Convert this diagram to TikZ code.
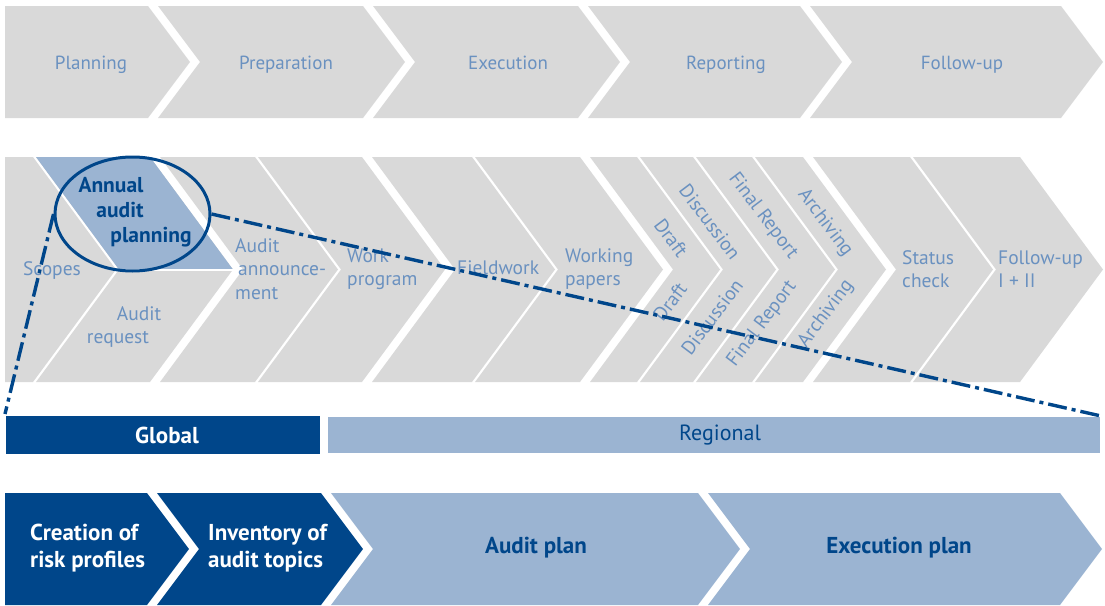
\documentclass[tikz,border=0pt]{standalone}
\usepackage{fontspec}
\setmainfont{PT Sans}
\usetikzlibrary{shapes.geometric}
\definecolor{grayc}{RGB}{217,217,217}
\definecolor{txtc}{RGB}{106,145,192}
\definecolor{darkb}{RGB}{0,70,138}
\definecolor{lightb}{RGB}{155,180,210}
% L, R, ytop, ybot, dleft, dright, style
\newcommand\mychev[7]{\fill[#7] (#1,#3) -- (#2,#3) -- ({#2+#6},{(#3+#4)/2}) -- (#2,#4) -- (#1,#4) -- ({#1+#5},{(#3+#4)/2}) -- cycle;}
\begin{document}
\begin{tikzpicture}[x=1pt,y=-1pt,
  ttext/.style={text=txtc,font=\fontsize{19}{24}\selectfont,inner sep=0pt,anchor=base},
  mtext/.style={text=txtc,font=\fontsize{19.5}{23.5}\selectfont,inner sep=0pt,align=left,anchor=west},
  rtext/.style={text=txtc,font=\fontsize{19.5}{23.5}\selectfont,inner sep=0pt},
  aap/.style={text=darkb,font=\bfseries\fontsize{21.5}{25}\selectfont,inner sep=0pt,anchor=base},
  wtext/.style={text=white,font=\bfseries\fontsize{23}{27}\selectfont,inner sep=0pt,align=left,anchor=west},
  btext/.style={text=darkb,font=\bfseries\fontsize{23}{27}\selectfont,inner sep=0pt},
  dd/.style={draw=darkb,line width=3.4pt,dash pattern=on 19pt off 5pt on 4pt off 5pt}]
\useasboundingbox (0,0) rectangle (1105,605);
% top row
\mychev{5}{148}{6}{118}{0}{42}{grayc}
\mychev{158}{363}{6}{118}{42}{42}{grayc}
\mychev{373}{578}{6}{118}{42}{42}{grayc}
\mychev{588}{800}{6}{118}{42}{42}{grayc}
\mychev{810}{1061}{6}{118}{42}{42}{grayc}
\node[ttext] (planning) at (91,69) {Planning};
\node[ttext] (preparation) at (286,69) {Preparation};
\node[ttext] (execution) at (508,69) {Execution};
\node[ttext] (reporting) at (726,69) {Reporting};
\node[ttext] (followup) at (962,69) {Follow-up};
% middle row
\mychev{5}{33}{157}{382}{0}{83}{grayc}
\mychev{36}{150}{157}{382}{83}{83}{grayc}
\mychev{160}{255}{157}{382}{83}{83}{grayc}
\mychev{258}{362}{157}{382}{83}{83}{grayc}
\mychev{372}{472}{157}{382}{83}{83}{grayc}
\mychev{475}{580}{157}{382}{83}{83}{grayc}
\mychev{590}{637}{157}{382}{83}{83}{grayc}
\mychev{640}{693}{157}{382}{83}{83}{grayc}
\mychev{696}{752}{157}{382}{83}{83}{grayc}
\mychev{755}{803}{157}{382}{83}{83}{grayc}
\mychev{813}{910}{157}{382}{83}{83}{grayc}
\mychev{913}{1020}{157}{382}{83}{83}{grayc}
\fill[lightb] (36,157) -- (150,157) -- (233,269.5) -- (119,269.5) -- cycle;
\draw[white,line width=2pt] (118,270) -- (234,270);
\node[rtext,anchor=base] (scopes) at (52,275) {Scopes};
\node[aap] (aap1) at (111,192) {Annual};
\node[aap] (aap2) at (120,217) {audit};
\node[aap] (aap3) at (151,242) {planning};
\node[rtext,anchor=base] (req1) at (139,320) {Audit};
\node[rtext,anchor=base] (req2) at (118,343) {request};
\node[mtext] (announce) at (235,269) {Audit\\\hspace*{3pt}announce-\\ment};
\node[mtext] (work) at (347,269) {Work\\program};
\node[mtext] (fieldwork) at (457,268) {Fieldwork};
\node[mtext] (papers) at (565,269) {Working\\papers};
\node[rtext,rotate=-53] (draftu) at (671,238) {Draft};
\node[rtext,rotate=53] (draftl) at (670,302) {Draft};
\node[rtext,rotate=-53] (discu) at (710,222) {Discussion};
\node[rtext,rotate=53] (discl) at (712,317) {Discussion};
\node[rtext,rotate=-53] (finalu) at (763,216) {Final Report};
\node[rtext,rotate=53] (finall) at (762,324) {Final Report};
\node[rtext,rotate=-53] (archu) at (825,223) {Archiving};
\node[rtext,rotate=53] (archl) at (826,314) {Archiving};
\node[mtext] (status) at (902,269) {Status\\check};
\node[mtext] (fup) at (998,269) {Follow-up\\I + II};
% bars
\fill[darkb] (6,416) rectangle (320,454);
\fill[lightb] (328,417) rectangle (1100,453);
\node[wtext,anchor=center] (global) at (167,435) {Global};
\node[text=darkb,font=\fontsize{22}{26}\selectfont,inner sep=0pt] (regional) at (720,435) {Regional};
% bottom row
\mychev{5}{147}{493}{605}{0}{42}{darkb}
\mychev{157}{321}{493}{605}{42}{42}{darkb}
\mychev{331}{698}{493}{605}{42}{42}{lightb}
\mychev{708}{1060}{493}{605}{42}{42}{lightb}
\node[wtext] (creation) at (30,548) {Creation of\\risk profiles};
\node[wtext] (inventory) at (208,548) {Inventory of\\audit topics};
\node[btext] (auditplan) at (536,548) {Audit plan};
\node[btext] (execplan) at (899,548) {Execution plan};
% zoom ellipse and lines
\node[draw=darkb,line width=3pt,ellipse,minimum width=155pt,minimum height=114pt,inner sep=0pt] (ell) at (132.5,214) {};
\coordinate (zl) at (5,414);
\coordinate (zr) at (1101,416);
\draw[dd] (ell.west) -- (zl);
\draw[dd] (ell.east) -- (zr);
\end{tikzpicture}
\end{document}
